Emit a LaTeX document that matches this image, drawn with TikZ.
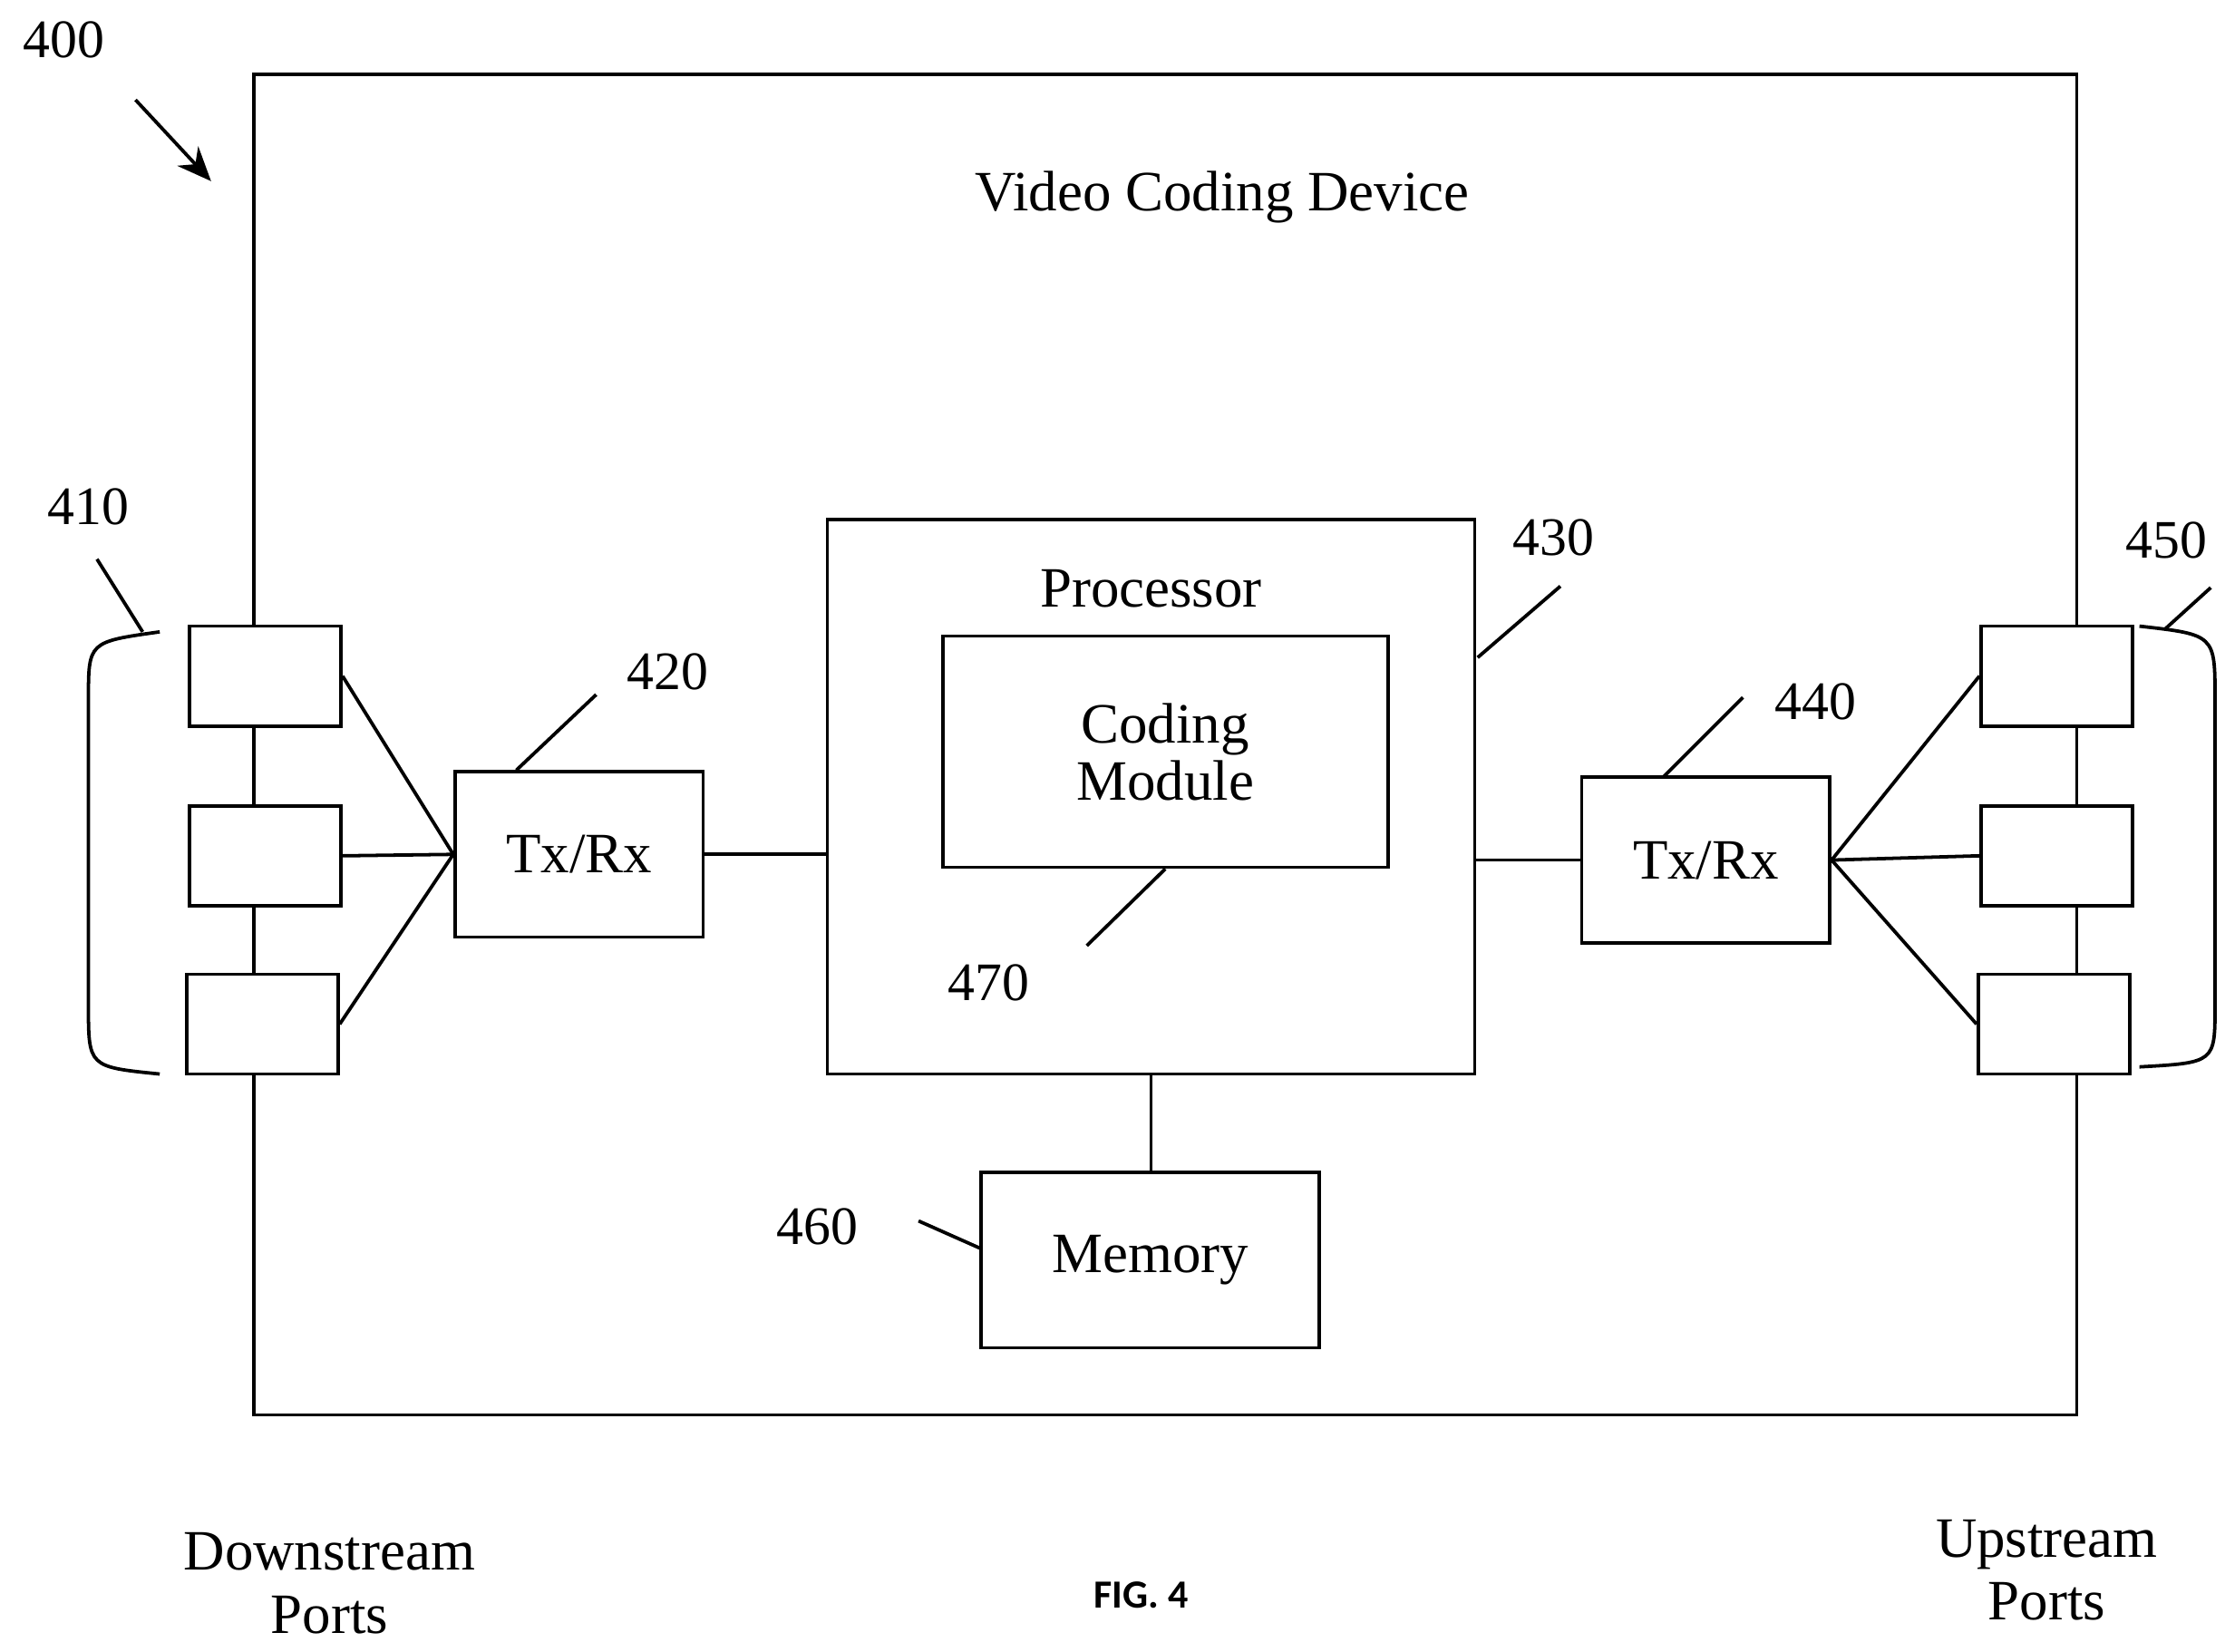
\documentclass[tikz,border=0pt]{standalone}
\usetikzlibrary{arrows.meta}
\usepackage{fontspec}
\setmainfont{Liberation Serif}
\newfontfamily\figfont{Carlito}
\begin{document}
\begin{tikzpicture}[x=0.5pt,y=-0.5pt,line width=1.2pt,
  bx/.style={draw,fill=white,line width=1.2pt},
  lbl/.style={font=\fontsize{19}{22}\selectfont},
  txt/.style={font=\fontsize{20}{24}\selectfont,align=center}]
\useasboundingbox (0,0) rectangle (1560,1158);
\draw (178,52) rectangle (1456,992);
\node[txt] (title) at (857,138) {Video Coding Device};
\node[lbl] (n400) at (45,28) {400};
\coordinate (a1) at (95,70); \coordinate (a2) at (148,127);
\draw[-{Stealth[length=12pt,width=10pt]}] (a1) -- (a2);
% left ports
\node[bx,minimum width=53pt,minimum height=35pt,inner sep=0pt] (lp1) at (186,474) {};
\node[bx,minimum width=53pt,minimum height=35pt,inner sep=0pt] (lp2) at (186,600) {};
\node[bx,minimum width=53pt,minimum height=35pt,inner sep=0pt] (lp3) at (184,718) {};
\node[bx,minimum width=87pt,minimum height=58pt,inner sep=0pt,txt] (tx1) at (406,599) {Tx/Rx};
\foreach \p in {lp1,lp2,lp3} \draw (\p.east) -- (tx1.west);
\draw (112,443) .. controls (62,450) .. (62,490) -- (62,705) .. controls (62,748) .. (112,753);
\node[lbl] (n410) at (62,355) {410};
\coordinate (b1) at (100,443); \coordinate (b2) at (68,392);
\draw (b1) -- (b2);
\node[lbl] (n420) at (468,471) {420};
\coordinate (c1) at (362,540); \coordinate (c2) at (418,487);
\draw (c1) -- (c2);
% processor
\node[bx,minimum width=227pt,minimum height=194.5pt,inner sep=0pt] (proc) at (807,558.5) {};
\node[txt] (ptxt) at (807,413) {Processor};
\node[bx,minimum width=156pt,minimum height=81pt,inner sep=0pt,txt] (cm) at (817,527) {Coding\\[-4pt]Module};
\coordinate (d1) at (762,663); \draw (cm.south) -- (d1);
\node[lbl] (n470) at (693,689) {470};
\node[lbl] (n430) at (1089,377) {430};
\coordinate (e1) at (1036,461); \coordinate (e2) at (1094,411);
\draw (e1) -- (e2);
\draw (tx1.east) -- (tx1.east -| proc.west);
% right
\node[bx,minimum width=87pt,minimum height=58pt,inner sep=0pt,txt] (tx2) at (1196,603) {Tx/Rx};
\draw (tx2.west -| proc.east) -- (tx2.west);
\node[lbl] (n440) at (1273,492) {440};
\coordinate (f1) at (1166,545); \coordinate (f2) at (1222,489);
\draw (f1) -- (f2);
\node[bx,minimum width=53pt,minimum height=35pt,inner sep=0pt] (rp1) at (1442,474) {};
\node[bx,minimum width=53pt,minimum height=35pt,inner sep=0pt] (rp2) at (1442,600) {};
\node[bx,minimum width=53pt,minimum height=35pt,inner sep=0pt] (rp3) at (1440,718) {};
\foreach \p in {rp1,rp2,rp3} \draw (tx2.east) -- (\p.west);
\draw (1500,439) .. controls (1553,445) .. (1553,490) -- (1553,705) .. controls (1553,745) .. (1500,748);
\node[lbl] (n450) at (1519,379) {450};
\coordinate (g1) at (1518,441); \coordinate (g2) at (1550,412);
\draw (g1) -- (g2);
% memory
\node[bx,minimum width=118.5pt,minimum height=61.5pt,inner sep=0pt,txt] (mem) at (806.5,883.5) {Memory};
\draw (proc.south) -- (proc.south |- mem.north);
\node[lbl] (n460) at (573,860) {460};
\coordinate (h1) at (644,856); \draw (h1) -- (mem.west |- 0,875);
% bottom labels
\node[txt] (ds) at (231,1110) {Downstream\\[-2pt]Ports};
\node[txt] (us) at (1435,1101) {Upstream\\[-2pt]Ports};
\node[font=\figfont\bfseries\fontsize{14}{16}\selectfont] (fig) at (800,1118) {FIG. 4};
\end{tikzpicture}
\end{document}
